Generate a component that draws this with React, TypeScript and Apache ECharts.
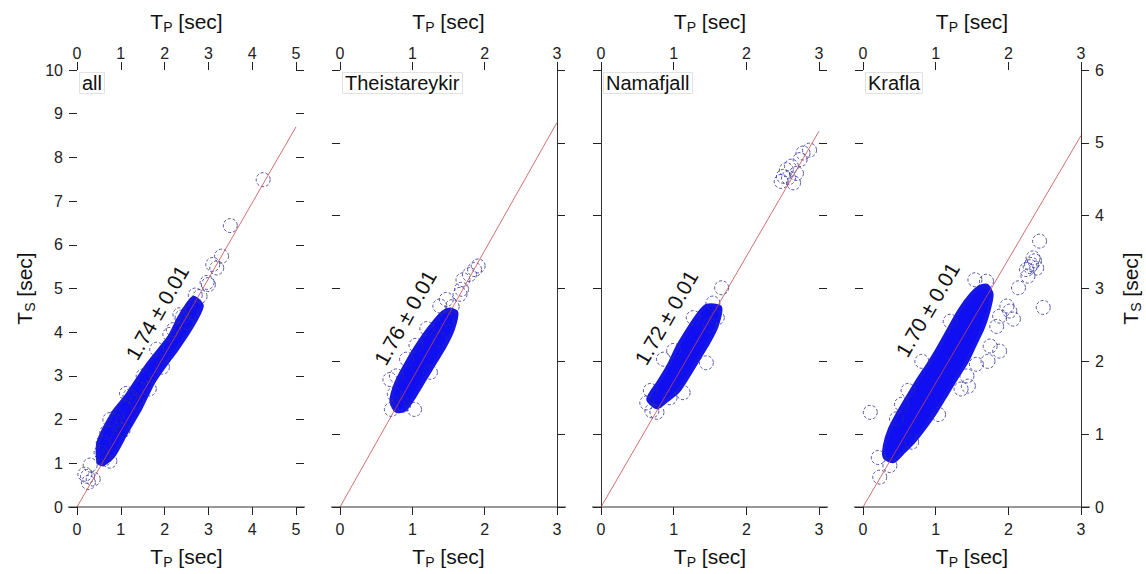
import React, { useEffect, useRef } from "react";
import * as echarts from "echarts";

const FONT = '"Liberation Sans", Arial, Helvetica, sans-serif';

// Panel meta
const panelNames = ["all", "Theistareykir", "Namafjall", "Krafla"];
const xMaxes = [5, 3, 3, 3];
const yMaxes = [10, 6, 6, 6];
const slopes = [1.74, 1.76, 1.72, 1.7];
const slopeLabels = ["1.74 ± 0.01", "1.76 ± 0.01", "1.72 ± 0.01", "1.70 ± 0.01"];
const slopeLabelPos = [
  [1.83, 4.45],
  [0.9, 2.6],
  [0.9, 2.6],
  [0.89, 2.71],
];

// Dense point clouds (outline of the saturated region, Tp / Ts in sec)
const cloudAll = [
  [0.49, 1.02], [0.49, 1.48], [0.83, 2.16], [1.13, 2.54], [1.59, 3.23], [1.89, 3.61],
  [2.12, 3.91], [2.31, 4.29], [2.5, 4.6], [2.66, 4.79], [2.85, 4.6], [2.58, 4.06],
  [2.28, 3.61], [2.05, 3.3], [1.74, 2.85], [1.44, 2.24], [1.13, 1.71], [0.83, 1.17], [0.6, 0.98],
];
const cloudTheistareykir = [
  [0.71, 1.46], [0.78, 1.71], [0.9, 1.94], [1.03, 2.16], [1.17, 2.37], [1.31, 2.55],
  [1.42, 2.67], [1.52, 2.71], [1.61, 2.67], [1.56, 2.44], [1.45, 2.21], [1.31, 1.98],
  [1.17, 1.75], [1.03, 1.52], [0.9, 1.34], [0.78, 1.32],
];
const cloudNamafjall = [
  [0.65, 1.48], [0.79, 1.71], [0.93, 1.94], [1.06, 2.21], [1.2, 2.44], [1.32, 2.62],
  [1.45, 2.76], [1.64, 2.74], [1.59, 2.48], [1.48, 2.26], [1.34, 2.03], [1.2, 1.8],
  [1.06, 1.59], [0.9, 1.46], [0.77, 1.37],
];
const cloudKrafla = [
  [0.3, 0.84], [0.37, 1.07], [0.49, 1.3], [0.62, 1.52], [0.76, 1.75], [0.9, 1.96],
  [1.04, 2.19], [1.17, 2.42], [1.31, 2.67], [1.45, 2.87], [1.59, 3.01], [1.7, 3.04],
  [1.77, 2.92], [1.72, 2.67], [1.65, 2.46], [1.54, 2.23], [1.43, 2.0], [1.29, 1.78],
  [1.15, 1.55], [1.01, 1.32], [0.85, 1.09], [0.69, 0.89], [0.55, 0.75], [0.42, 0.63], [0.3, 0.68],
];

// Individually visible events (open circles)
const pointsAll = [
  [0.3, 0.96], [0.24, 0.7], [0.37, 0.64], [0.26, 0.56], [0.18, 0.75], [1.13, 2.6],
  [0.87, 1.97], [0.75, 2.0], [0.68, 1.71], [0.6, 1.48], [0.55, 1.25], [0.62, 1.1],
  [0.75, 1.05], [0.91, 2.08], [1.21, 2.54], [1.51, 3.0], [1.82, 3.61], [2.2, 4.06],
  [2.12, 3.95], [2.5, 4.22], [2.81, 4.82], [3.0, 5.09], [2.97, 5.14], [3.19, 5.47],
  [3.1, 5.55], [3.3, 5.74], [3.5, 6.44], [4.25, 7.49], [2.6, 4.45], [2.4, 4.35],
  [1.95, 3.2], [1.65, 2.7], [1.35, 2.4], [1.05, 1.75], [2.7, 4.85], [2.35, 4.4],
];
const pointsTheistareykir = [
  [0.71, 1.34], [0.8, 1.41], [1.03, 1.34], [0.69, 1.75], [0.78, 1.8], [0.92, 2.03],
  [1.38, 2.3], [1.47, 2.58], [1.38, 2.76], [1.47, 2.85], [1.66, 2.92], [1.68, 2.99],
  [1.7, 3.12], [1.79, 3.19], [1.86, 3.26], [1.91, 3.31], [0.75, 1.55], [1.2, 2.45],
  [1.55, 2.75], [1.05, 2.22], [1.25, 1.85], [0.88, 1.4],
];
const pointsNamafjall = [
  [0.7, 1.32], [0.63, 1.43], [0.77, 1.3], [1.13, 1.57], [1.45, 1.98], [1.27, 2.6],
  [1.66, 3.01], [1.54, 2.8], [0.86, 2.03], [0.68, 1.6], [1.6, 2.6], [1.5, 2.5],
  [1.0, 2.15], [0.95, 1.5],
  [2.51, 4.54], [2.55, 4.63], [2.65, 4.45], [2.62, 4.68], [2.74, 4.77], [2.87, 4.9],
  [2.78, 4.86], [2.48, 4.47], [2.69, 4.58], [2.58, 4.52],
];
const pointsKrafla = [
  [0.1, 1.3], [0.23, 0.41], [0.21, 0.68], [0.37, 0.57], [0.67, 0.89], [0.53, 1.41],
  [0.46, 1.21], [1.04, 1.27], [0.81, 2.0], [1.45, 1.66], [1.43, 1.8], [1.56, 1.96],
  [1.72, 2.0], [1.75, 2.21], [1.88, 2.14], [1.84, 2.48], [1.88, 2.62], [2.02, 2.69],
  [1.98, 2.76], [2.07, 2.58], [2.48, 2.74], [2.14, 3.01], [2.27, 3.17], [2.25, 3.26],
  [2.39, 3.28], [2.32, 3.33], [2.34, 3.42], [2.43, 3.65], [1.54, 3.12], [1.7, 3.1],
  [2.3, 3.3], [2.36, 3.38], [0.62, 1.6], [1.2, 2.55], [1.35, 1.62],
];

const clouds = [cloudAll, cloudTheistareykir, cloudNamafjall, cloudKrafla];
const points = [pointsAll, pointsTheistareykir, pointsNamafjall, pointsKrafla];

const tpName = "{t|T}{s|P}{t| [sec]}";
const tsName = "{t|T}{s|S}{t| [sec]}";
const richName = {
  t: { fontSize: 21, fontFamily: FONT, color: "#111", lineHeight: 26 },
  s: { fontSize: 14, fontFamily: FONT, color: "#111", verticalAlign: "bottom", lineHeight: 16 },
};

function buildOption() {
  const gridLeft = [77, 340, 601, 863];
  const gridWidth = [219, 217, 218, 218];
  const tick = { show: true, inside: false, length: 8, lineStyle: { color: "#222", width: 1 } };
  const label = { fontSize: 16, color: "#222", fontFamily: FONT };
  const grid: any[] = [];
  const xAxis: any[] = [];
  const yAxis: any[] = [];
  const series: any[] = [];

  panelNames.forEach((_, i) => {
    grid.push({ left: gridLeft[i], width: gridWidth[i], top: 70, height: 438 });
    const xBase = {
      gridIndex: i,
      type: "value",
      min: 0,
      max: xMaxes[i],
      interval: 1,
      axisTick: tick,
      splitLine: { show: false },
      name: tpName,
      nameLocation: "middle",
      nameTextStyle: { rich: richName },
    };
    xAxis.push({
      ...xBase,
      position: "bottom",
      axisLine: { show: false, onZero: false },
      axisLabel: { ...label, margin: 14 },
      nameGap: 36,
    });
    xAxis.push({
      ...xBase,
      position: "top",
      axisLine: { show: false, onZero: false },
      axisLabel: { ...label, margin: 9 },
      nameGap: 36,
    });
    const yBase = {
      gridIndex: i,
      type: "value",
      min: 0,
      max: yMaxes[i],
      interval: 1,
      axisTick: tick,
      splitLine: { show: false },
      nameLocation: "middle",
      nameRotate: 90,
      nameTextStyle: { rich: richName },
    };
    yAxis.push({
      ...yBase,
      position: "left",
      axisLine: { show: i === 2, onZero: false, lineStyle: { color: "#333", width: 1 } },
      axisLabel: { ...label, margin: 14, show: i === 0 },
      name: i === 0 ? tsName : "",
      nameGap: 40,
    });
    yAxis.push({
      ...yBase,
      position: "right",
      axisLine: { show: i === 1 || i === 3, onZero: false, lineStyle: { color: "#333", width: 1 } },
      axisLabel: { ...label, margin: 14, show: i === 3 },
      name: i === 3 ? tsName : "",
      nameGap: 36,
    });

    const xi = i * 2;
    const yi = i * 2;
    const xm = xMaxes[i];
    // bottom axis baseline, slightly extended past both ends
    series.push({
      type: "custom",
      xAxisIndex: xi,
      yAxisIndex: yi,
      data: [[0, 0]],
      silent: true,
      z: 6,
      renderItem: (_p: any, api: any) => {
        const a = api.coord([0, 0]);
        const b = api.coord([xm, 0]);
        return {
          type: "line",
          shape: { x1: a[0] - 9, y1: a[1], x2: b[0] + 9, y2: b[1] },
          style: { stroke: "#333", lineWidth: 1 },
        };
      },
    });
    const cloud = clouds[i];
    series.push({
      type: "custom",
      xAxisIndex: xi,
      yAxisIndex: yi,
      data: [[0, 0]],
      silent: true,
      z: 2,
      renderItem: (_p: any, api: any) => ({
        type: "polygon",
        shape: { points: cloud.map((pt) => api.coord(pt)), smooth: 0.25 },
        style: { fill: "#0f0ff2", stroke: "#1616e8", lineWidth: 4, lineJoin: "round" },
      }),
    });
    series.push({
      type: "scatter",
      xAxisIndex: xi,
      yAxisIndex: yi,
      data: points[i],
      symbol: "circle",
      symbolSize: 14,
      silent: true,
      z: 3,
      itemStyle: {
        color: "rgba(0,0,0,0)",
        borderColor: "#2e2e94",
        borderWidth: 1,
        borderType: [3, 2],
      },
    });
    series.push({
      type: "line",
      xAxisIndex: xi,
      yAxisIndex: yi,
      data: [
        [0, 0],
        [xm, slopes[i] * xm],
      ],
      symbol: "none",
      silent: true,
      z: 4,
      lineStyle: { color: "#c84a4a", width: 0.8 },
    });
    const lp = slopeLabelPos[i];
    const s = slopes[i];
    const txt = slopeLabels[i];
    series.push({
      type: "custom",
      xAxisIndex: xi,
      yAxisIndex: yi,
      data: [[0, 0]],
      silent: true,
      z: 5,
      renderItem: (_p: any, api: any) => {
        const c = api.coord(lp);
        const a = api.coord([0, 0]);
        const b = api.coord([1, s]);
        const ang = Math.atan2(a[1] - b[1], b[0] - a[0]);
        return {
          type: "text",
          x: c[0],
          y: c[1],
          rotation: ang,
          style: {
            text: txt,
            fontSize: 21,
            fontFamily: FONT,
            fill: "#111",
            align: "center",
            verticalAlign: "middle",
            textAlign: "center",
            textVerticalAlign: "middle",
          },
        };
      },
    });
  });

  const title = panelNames.map((n, i) => ({
    text: n,
    left: gridLeft[i] + 2,
    top: 72,
    padding: [1, 3, 1, 3],
    backgroundColor: "#ffffff",
    borderColor: "#e2e2e2",
    borderWidth: 1,
    textStyle: { fontSize: 20, fontWeight: "normal", color: "#111", fontFamily: FONT },
  }));

  return {
    animation: false,
    backgroundColor: "#ffffff",
    textStyle: { fontFamily: FONT },
    title,
    grid,
    xAxis,
    yAxis,
    series,
  };
}

export default function App() {
  const ref = useRef<HTMLDivElement>(null);
  useEffect(() => {
    document.body.style.margin = "0";
    const chart = echarts.init(ref.current!, null, { renderer: "svg" });
    chart.setOption(buildOption() as any);
    return () => chart.dispose();
  }, []);
  return <div ref={ref} style={{ width: 1146, height: 574 }} />;
}
